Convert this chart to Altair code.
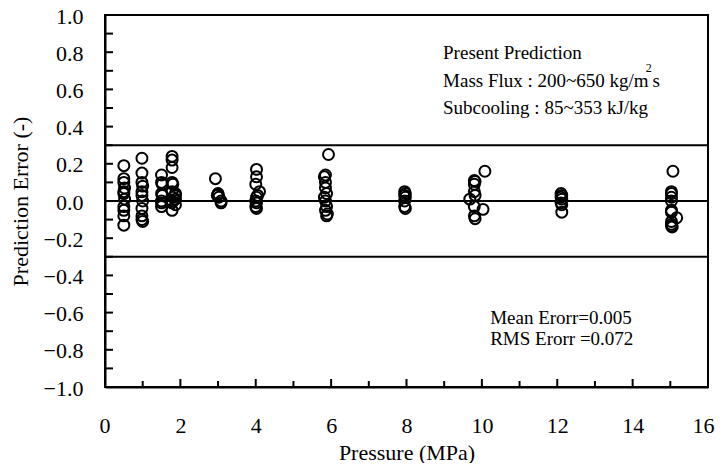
import altair as alt
import pandas as pd

# ---- data ----
pressure = (
    [0.5, 0.5, 0.5, 0.52, 0.5, 0.5, 0.52, 0.5, 0.5, 0.5, 0.5]
    + [0.98, 0.98, 0.98, 1.0, 0.98, 0.98, 1.0, 0.98, 0.98, 0.98, 1.0]
    + [1.5, 1.5, 1.52, 1.5, 1.52, 1.5, 1.5, 1.5]
    + [1.78, 1.78, 1.78, 1.78, 1.8, 1.78, 1.8, 1.78, 1.78, 1.78, 1.87, 1.87, 1.87, 1.87]
    + [2.93, 3.0, 3.0, 2.98, 3.02, 3.08, 3.08]
    + [4.02, 4.02, 4.0, 4.1, 4.02, 4.0, 4.02, 4.0, 4.02, 4.05]
    + [5.93, 5.85, 5.82, 5.85, 5.85, 5.88, 5.82, 5.85, 5.88, 5.85, 5.9, 5.88]
    + [7.95, 7.97, 7.95, 7.97, 7.95, 7.95, 7.97]
    + [10.08, 9.8, 9.82, 9.8, 9.8, 9.82, 9.68, 9.8, 10.03, 9.8, 9.82]
    + [12.1, 12.12, 12.1, 12.12, 12.1, 12.12, 12.12]
    + [15.07, 15.03, 15.03, 15.03, 15.03, 15.03, 15.03, 15.17, 15.03, 15.03, 15.03, 15.05]
)
error = (
    [0.19, 0.12, 0.10, 0.07, 0.05, 0.04, 0.01, -0.03, -0.05, -0.08, -0.13]
    + [0.23, 0.15, 0.10, 0.08, 0.05, 0.03, 0.0, -0.04, -0.08, -0.10, -0.11]
    + [0.14, 0.10, 0.09, 0.04, 0.03, 0.0, -0.01, -0.03]
    + [0.24, 0.22, 0.18, 0.10, 0.09, 0.05, 0.02, 0.0, -0.01, -0.05, 0.03, 0.01, 0.04, -0.02]
    + [0.12, 0.04, 0.035, 0.03, 0.02, 0.0, -0.01]
    + [0.17, 0.13, 0.09, 0.05, 0.02, 0.0, -0.01, -0.03, -0.04, 0.03]
    + [0.25, 0.14, 0.13, 0.10, 0.07, 0.04, 0.02, 0.0, -0.03, -0.05, -0.07, -0.08]
    + [0.05, 0.04, 0.03, 0.02, 0.0, -0.03, -0.04]
    + [0.16, 0.11, 0.105, 0.09, 0.05, 0.03, 0.01, -0.03, -0.045, -0.08, -0.095]
    + [0.04, 0.03, 0.02, 0.01, -0.01, -0.02, -0.06]
    + [0.16, 0.05, 0.04, 0.02, 0.0, -0.05, -0.06, -0.09, -0.11, -0.125, -0.135, -0.14]
)

ref_lines = [0.3, 0.0, -0.3]
x_ticks_major = [0, 2, 4, 6, 8, 10, 12, 14, 16]
x_ticks_minor = [1, 3, 5, 7, 9, 11, 13, 15]
y_ticks = [round(-1 + 0.1 * i, 1) for i in range(21)]
y_labels = [round(-1 + 0.2 * i, 1) for i in range(11)]

notes_text = ["Present Prediction", "Mass Flux : 200~650 kg/m", "s",
              "Subcooling : 85~353 kJ/kg", "Mean Erorr=0.005", "RMS Erorr =0.072"]
notes_x = [8.97, 8.97, 14.53, 8.97, 10.22, 10.22]
notes_y = [0.763, 0.615, 0.615, 0.468, -0.661, -0.774]
sup_text = ["2"]
sup_x = [14.35]
sup_y = [0.692]

W, H = 603, 372
FONT = "Liberation Serif"

xs = alt.Scale(domain=[0, 16], nice=False, zero=False)
ys = alt.Scale(domain=[-1, 1], nice=False, zero=False)
ax_x = alt.Axis(values=x_ticks_major, ticks=False, labelPadding=28,
                labelFlush=1, labelFlushOffset=6, labelOverlap=False,
                labelBound=False, titlePadding=6, format="d")
ax_y = alt.Axis(values=y_labels, ticks=False, labelPadding=22,
                labelFlush=False, labelOverlap=False, labelBound=False,
                labelOffset=1, titlePadding=11, format=".1f")


def X(field):
    return alt.X(field, scale=xs, axis=ax_x, title="Pressure (MPa)")


def Y(field):
    return alt.Y(field, scale=ys, axis=ax_y, title="Prediction Error (-)")


pts = pd.DataFrame({"p": pressure, "e": error})
points = alt.Chart(pts).mark_point(shape="circle", filled=False, color="black",
                                   strokeWidth=2, size=120, opacity=1).encode(
    x=X("p:Q"), y=Y("e:Q"))

hlines = alt.Chart(pd.DataFrame({"e": ref_lines})).mark_rule(
    color="black", strokeWidth=2).encode(y=Y("e:Q"))

yt = alt.Chart(pd.DataFrame({"e": y_ticks})).mark_rule(
    color="black", strokeWidth=2).encode(
    y=Y("e:Q"), x=alt.value(0), x2=alt.value(8))

xt_major = alt.Chart(pd.DataFrame({"p": x_ticks_major})).mark_rule(
    color="black", strokeWidth=2).encode(
    x=X("p:Q"), y=alt.value(H), y2=alt.value(H - 8))

xt_minor = alt.Chart(pd.DataFrame({"p": x_ticks_minor})).mark_rule(
    color="black", strokeWidth=2).encode(
    x=X("p:Q"), y=alt.value(H), y2=alt.value(H - 6))

notes = alt.Chart(pd.DataFrame({"t": notes_text, "p": notes_x, "e": notes_y})).mark_text(
    align="left", baseline="alphabetic", font=FONT, fontSize=19, color="black").encode(
    x=X("p:Q"), y=Y("e:Q"), text="t:N")

sup = alt.Chart(pd.DataFrame({"t": sup_text, "p": sup_x, "e": sup_y})).mark_text(
    align="left", baseline="alphabetic", font=FONT, fontSize=12, color="black").encode(
    x=X("p:Q"), y=Y("e:Q"), text="t:N")

chart = alt.layer(points, hlines, yt, xt_major, xt_minor, notes, sup).properties(
    width=W, height=H,
    autosize=alt.AutoSizeParams(type="none"),
    padding={"left": 97, "top": 7, "right": 8, "bottom": 76},
    background="white",
).configure_view(stroke="black", strokeWidth=2).configure_axis(
    domainColor="black", domainWidth=2, grid=False,
    labelFont=FONT, labelFontSize=22, labelColor="black",
    titleFont=FONT, titleFontSize=22, titleColor="black", titleFontWeight="normal",
)

chart.save("out.html", embed_options={"renderer": "svg", "actions": False})
